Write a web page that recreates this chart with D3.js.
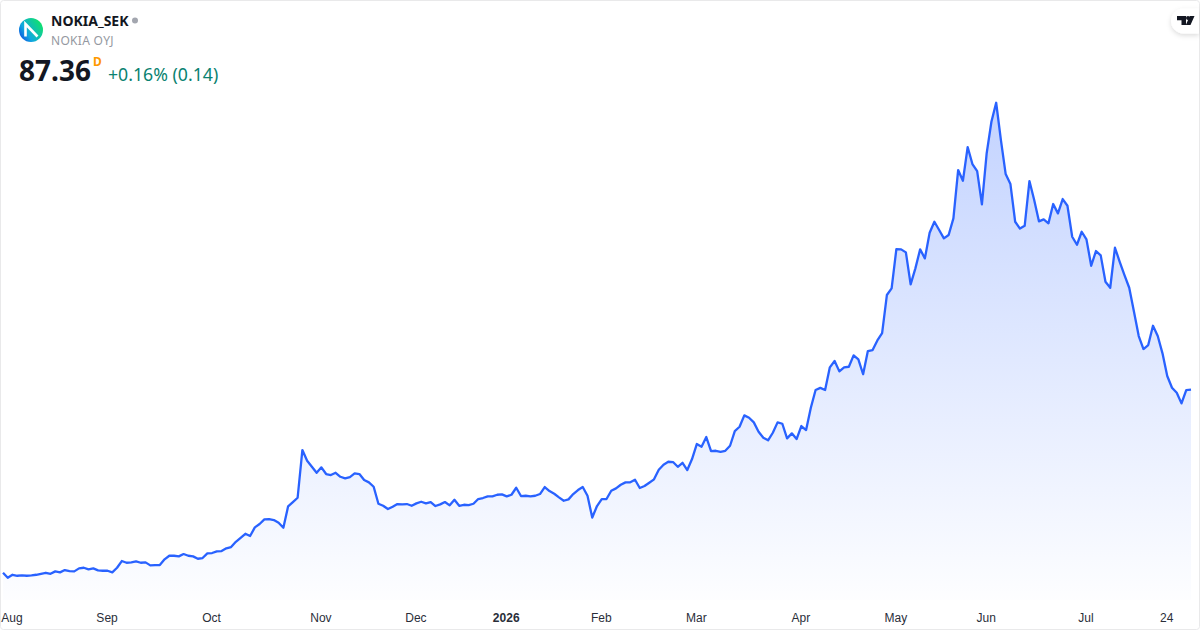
<!DOCTYPE html>
<html>
<head>
<meta charset="utf-8">
<script src="https://cdnjs.cloudflare.com/ajax/libs/d3/7.8.5/d3.min.js"></script>
<style>
  html, body { margin: 0; padding: 0; background: #fff; }
  svg { display: block; font-family: "Noto Sans", sans-serif; }
</style>
</head>
<body>
<svg id="main"></svg>
<script>
let symbol = 'NOKIA_SEK'
let company = 'NOKIA OYJ'
let lastPrice = '87.36'
let interval = 'D'
let change = '+0.16% (0.14)'

// daily closes
let closes = [
  41.56, 40.31, 41.06, 40.81, 40.91, 40.81, 40.91, 41.06, 41.31, 41.56,
  41.31, 41.91, 41.66, 42.24, 41.99, 41.91, 42.66, 42.81, 42.41, 42.66,
  42.16, 42.06, 42.06, 41.66, 42.81, 44.49, 44.06, 44.16, 44.41, 44.06,
  44.16, 43.41, 43.49, 43.49, 44.91, 45.81, 45.81, 45.66, 46.24, 45.81,
  45.66, 45.06, 45.24, 46.41, 46.49, 46.91, 46.99, 47.66, 47.99, 49.31,
  50.31, 51.31, 50.74, 52.91, 53.74, 54.91, 54.99, 54.74, 54.06, 52.81,
  58.16, 59.24, 60.31, 72.24, 69.56, 68.06, 66.56, 67.91, 66.24, 65.99,
  66.56, 65.56, 65.16, 65.49, 66.41, 66.24, 64.74, 64.16, 63.06, 58.81,
  58.31, 57.49, 58.06, 58.74, 58.66, 58.74, 58.31, 58.91, 59.31, 58.91,
  59.24, 58.24, 58.66, 59.24, 58.41, 59.81, 58.31, 58.56, 58.49, 58.81,
  59.99, 60.24, 60.66, 60.66, 61.06, 61.16, 60.66, 61.06, 62.81, 60.74,
  60.81, 60.66, 60.81, 61.24, 62.99, 61.99, 61.31, 60.41, 59.56, 59.91,
  61.24, 62.24, 62.99, 60.81, 55.36, 58.24, 59.99, 59.99, 62.06, 62.66,
  63.56, 64.16, 64.16, 64.81, 62.74, 63.24, 64.06, 64.91, 67.31, 68.56,
  69.31, 69.24, 68.06, 69.06, 67.24, 69.99, 73.74, 73.06, 75.49, 71.99,
  72.06, 71.81, 72.06, 73.31, 76.99, 78.06, 80.91, 80.31, 79.16, 76.81,
  75.31, 74.66, 76.56, 79.16, 78.81, 75.16, 76.41, 74.99, 78.24, 77.24,
  82.81, 87.24, 87.79, 87.24, 92.91, 94.49, 91.91, 92.91, 93.06, 95.91,
  94.91, 91.19, 96.99, 97.24, 99.64, 101.49, 110.99, 112.66, 122.49, 122.41,
  121.66, 113.66, 117.66, 122.41, 120.16, 126.56, 129.31, 127.24, 125.16, 125.99,
  130.16, 142.24, 139.56, 147.99, 143.74, 141.99, 133.66, 146.41, 154.31, 159.06,
  149.74, 141.24, 138.74, 129.31, 127.61, 128.31, 139.49, 134.74, 129.41, 129.91,
  128.91, 133.74, 131.41, 134.99, 133.31, 125.56, 123.56, 126.81, 124.91, 118.31,
  121.99, 120.91, 114.31, 112.81, 122.81, 119.31, 115.99, 112.81, 106.81, 100.74,
  97.49, 98.49, 103.31, 100.74, 96.41, 90.74, 87.81, 86.56, 83.91, 87.22, 87.36
]

let tickBars = [2, 22, 44, 67, 87, 106, 126, 146, 168, 188, 207, 228, 245]
let tickLabels = ['Aug', 'Sep', 'Oct', 'Nov', 'Dec', '2026', 'Feb', 'Mar', 'Apr', 'May', 'Jun', 'Jul', '24']

let width = 1200
let height = 630
let plotBottom = 600
let lineColor = '#2962ff'

let svg = d3.select('#main')
    .attr('width', width)
    .attr('height', height)

let xScale = d3.scaleLinear()
    .domain([0, closes.length - 1])
    .range([3, 1191])

let yScale = d3.scaleLinear()
    .domain([30, 160])
    .range([619, 99])

let defs = svg.append('defs')

let fillGrad = defs.append('linearGradient')
    .attr('id', 'areaFill')
    .attr('gradientUnits', 'userSpaceOnUse')
    .attr('x1', 0).attr('x2', 0)
    .attr('y1', yScale(d3.max(closes)))
    .attr('y2', plotBottom)
fillGrad.append('stop').attr('offset', 0).attr('stop-color', lineColor).attr('stop-opacity', 0.28)
fillGrad.append('stop').attr('offset', 1).attr('stop-color', lineColor).attr('stop-opacity', 0.01)

let logoGrad = defs.append('linearGradient')
    .attr('id', 'logoFill')
    .attr('x1', 0).attr('y1', 1).attr('x2', 1).attr('y2', 0.35)
logoGrad.append('stop').attr('offset', 0).attr('stop-color', '#0a35e0')
logoGrad.append('stop').attr('offset', 0.4).attr('stop-color', '#10a8e0')
logoGrad.append('stop').attr('offset', 1).attr('stop-color', '#10e070')

let shadow = defs.append('filter')
    .attr('id', 'pillShadow')
    .attr('x', '-30%').attr('y', '-30%').attr('width', '160%').attr('height', '170%')
shadow.append('feDropShadow')
    .attr('dx', 0).attr('dy', 2).attr('stdDeviation', 2.5)
    .attr('flood-color', '#000').attr('flood-opacity', 0.14)

// frame
svg.append('rect')
    .attr('x', 0.5).attr('y', 0.5)
    .attr('width', width - 1).attr('height', height - 1)
    .attr('rx', 3)
    .attr('fill', '#fff')
    .attr('stroke', '#e9e9ea')

// area and line
let area = d3.area()
    .x((d, i) => xScale(i))
    .y0(plotBottom)
    .y1(d => yScale(d))

let line = d3.line()
    .x((d, i) => xScale(i))
    .y(d => yScale(d))

svg.append('path')
    .datum(closes)
    .attr('d', area)
    .attr('fill', 'url(#areaFill)')

svg.append('path')
    .datum(closes)
    .attr('d', line)
    .attr('fill', 'none')
    .attr('stroke', lineColor)
    .attr('stroke-width', 2.3)
    .attr('stroke-linejoin', 'round')

// time axis
let xAxis = d3.axisBottom(xScale)
    .tickValues(tickBars)
    .tickSize(0)
    .tickPadding(13)
    .tickFormat((d, i) => tickLabels[i])

let axisG = svg.append('g')
    .attr('transform', `translate(0, ${plotBottom})`)
    .call(xAxis)
axisG.select('.domain').remove()
axisG.selectAll('text')
    .attr('dx', -1)
    .attr('fill', '#2a2e39')
    .style('font-size', '12px')
    .style('font-weight', (d, i) => tickLabels[i] === '2026' ? 700 : 400)

// header
svg.append('circle')
    .attr('cx', 31).attr('cy', 30).attr('r', 12)
    .attr('fill', 'url(#logoFill)')
svg.append('path')
    .attr('d', 'M25.5 36.5 V24 L37.5 36.5')
    .attr('fill', 'none')
    .attr('stroke', '#fff')
    .attr('stroke-width', 2.6)

svg.append('text')
    .attr('x', 51).attr('y', 26)
    .attr('font-size', 14).attr('font-weight', 700)
    .attr('fill', '#131722')
    .text(symbol)
svg.append('circle')
    .attr('cx', 135).attr('cy', 20.5).attr('r', 3)
    .attr('fill', '#a3a6af')
svg.append('text')
    .attr('x', 51).attr('y', 45)
    .attr('font-size', 12)
    .attr('letter-spacing', 0.3)
    .attr('fill', '#9598a1')
    .text(company)
svg.append('text')
    .attr('x', 19).attr('y', 81)
    .attr('font-size', 28).attr('font-weight', 700)
    .attr('fill', '#131722')
    .text(lastPrice)
svg.append('text')
    .attr('x', 93).attr('y', 66)
    .attr('font-size', 12).attr('font-weight', 700)
    .attr('fill', '#ff9800')
    .text(interval)
svg.append('text')
    .attr('x', 108).attr('y', 81)
    .attr('font-size', 17.7)
    .attr('fill', '#0a8270')
    .text(change)

// tv badge
svg.append('path')
    .attr('d', 'M1199 8.5 H1183.5 A12.5 12.5 0 0 0 1183.5 33.5 H1199 Z')
    .attr('fill', '#fff')
    .attr('filter', 'url(#pillShadow)')
svg.append('path')
    .attr('d', 'M1177 16 H1186 V25 H1181.5 V20.2 H1177 Z M1194.5 16 L1190.5 25 H1185.8 L1189.8 16 Z')
    .attr('fill', '#131722')
svg.append('circle')
    .attr('cx', 1188).attr('cy', 18).attr('r', 2)
    .attr('fill', '#131722')
</script>
</body>
</html>
